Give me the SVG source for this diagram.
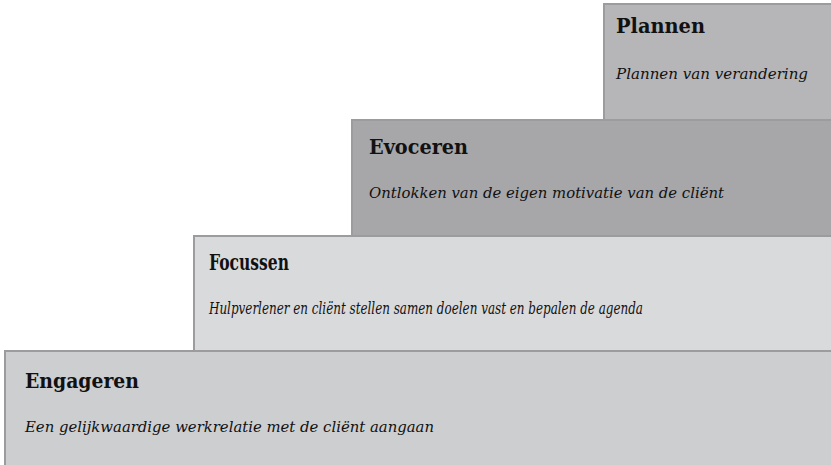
<svg xmlns="http://www.w3.org/2000/svg" width="831" height="465" viewBox="0 0 831 465">
<style>
.box{stroke:#9c9c9e;stroke-width:2}
.t{font-family:"DejaVu Serif","Liberation Serif",serif;font-weight:bold;font-size:21px;fill:#111}
.s{font-family:"DejaVu Serif","Liberation Serif",serif;font-style:italic;font-size:15px;fill:#111}
.c{font-size:17px}
.ct{font-size:22px}
</style>
<rect width="831" height="465" fill="#ffffff"/>
<g id="plannen">
<rect class="box" x="604" y="4" width="240" height="130" fill="#b6b6b8"/>
<text class="t" x="616" y="33" textLength="89" lengthAdjust="spacingAndGlyphs">Plannen</text>
<text class="s" x="616" y="79" textLength="192" lengthAdjust="spacingAndGlyphs">Plannen van verandering</text>
</g>
<g id="evoceren">
<rect class="box" x="352" y="120" width="490" height="130" fill="#a7a7a9"/>
<text class="t" x="369" y="154" textLength="99" lengthAdjust="spacingAndGlyphs">Evoceren</text>
<text class="s" x="369" y="198" textLength="355" lengthAdjust="spacingAndGlyphs">Ontlokken van de eigen motivatie van de cliënt</text>
</g>
<g id="focussen">
<rect class="box" x="194" y="236" width="650" height="130" fill="#d9dadc"/>
<text class="t ct" x="209" y="270" textLength="80" lengthAdjust="spacingAndGlyphs">Focussen</text>
<text class="s c" x="209" y="314" textLength="434" lengthAdjust="spacingAndGlyphs">Hulpverlener en cliënt stellen samen doelen vast en bepalen de agenda</text>
</g>
<g id="engageren">
<rect class="box" x="5" y="351" width="840" height="130" fill="#cdced0"/>
<text class="t" x="25" y="388" textLength="114" lengthAdjust="spacingAndGlyphs">Engageren</text>
<text class="s" x="25" y="432" textLength="409" lengthAdjust="spacingAndGlyphs">Een gelijkwaardige werkrelatie met de cliënt aangaan</text>
</g>
</svg>
